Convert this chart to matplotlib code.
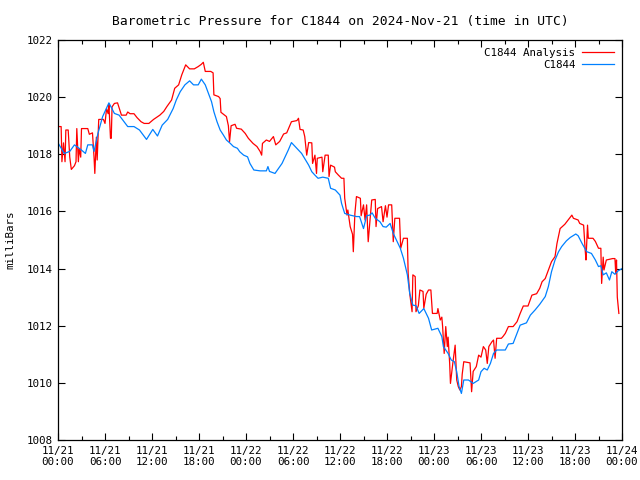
import matplotlib
matplotlib.use("Agg")
import matplotlib.pyplot as plt
import numpy as np

# Data (hours since 11/21 00:00 UTC, millibars) -------------------------------

station_hours = [0.0, 0.8, 1.5, 2.1, 2.9, 3.5, 3.8, 4.4, 4.6, 5.1, 5.7, 6.5, 7.2, 7.8,
                 8.9, 9.7, 10.4, 11.3, 12.1, 12.7, 13.3, 14.0, 14.7, 15.1, 15.6, 16.2,
                 16.8, 17.3, 17.9, 18.3, 18.8, 19.2, 19.6, 19.9, 20.3, 20.7, 21.1, 21.5,
                 22.0, 22.4, 22.9, 23.2, 23.7, 24.2, 24.5, 25.0, 25.8, 26.6, 26.8, 27.0,
                 27.7, 28.6, 29.4, 29.8, 30.7, 31.1, 32.0, 32.4, 32.8, 33.2, 33.8, 34.5,
                 34.8, 35.4, 36.0, 36.2, 36.6, 37.3, 38.1, 38.5, 39.0, 39.4, 39.8, 40.1,
                 40.5, 41.1, 41.5, 41.9, 42.4, 42.8, 43.2, 43.7, 44.1, 44.6, 44.9, 45.3,
                 45.7, 46.1, 46.7, 47.3, 47.7, 48.5, 49.0, 49.2, 49.8, 50.2, 50.6, 50.9,
                 51.2, 51.5, 51.8, 52.4, 53.0, 53.7, 54.0, 54.4, 54.8, 55.2, 55.6, 56.0,
                 57.1, 57.5, 58.1, 58.6, 59.0, 59.8, 60.3, 60.9, 61.5, 62.2, 62.6, 63.0,
                 63.45, 63.9, 64.3, 64.9, 65.4, 66.1, 66.4, 66.9, 67.5, 68.1, 68.6, 69.0,
                 69.3, 69.6, 70.0, 70.4, 70.7, 71.1, 71.5, 72.0]
station_mb = [1018.4, 1018.03, 1018.1, 1018.33, 1018.17, 1018.03, 1018.33, 1018.33,
              1018.1, 1018.73, 1019.32, 1019.8, 1019.43, 1019.37, 1018.97, 1018.97,
              1018.85, 1018.52, 1018.87, 1018.64, 1019.02, 1019.22, 1019.6, 1019.9,
              1020.19, 1020.43, 1020.57, 1020.43, 1020.43, 1020.63, 1020.43, 1020.13,
              1019.84, 1019.49, 1019.14, 1018.85, 1018.68, 1018.5, 1018.38, 1018.27,
              1018.21, 1018.09, 1017.97, 1017.91, 1017.68, 1017.45, 1017.42, 1017.42,
              1017.57, 1017.4, 1017.33, 1017.68, 1018.15, 1018.41, 1018.15, 1018.03,
              1017.62, 1017.39, 1017.27, 1017.16, 1017.2, 1017.16, 1016.81, 1016.75,
              1016.57, 1016.28, 1015.93, 1015.87, 1015.82, 1015.82, 1015.4, 1015.85,
              1015.87, 1015.95, 1015.76, 1015.64, 1015.47, 1015.45, 1015.58, 1015.23,
              1015.0, 1014.71, 1014.36, 1013.78, 1013.13, 1012.72, 1012.7, 1012.43,
              1012.6, 1012.26, 1011.85, 1011.91, 1011.62, 1011.27, 1011.03, 1010.8,
              1010.74, 1010.39, 1009.87, 1009.63, 1010.1, 1010.1, 1009.98, 1010.1,
              1010.39, 1010.51, 1010.45, 1010.68, 1011.03, 1011.15, 1011.15, 1011.36,
              1011.38, 1011.73, 1012.02, 1012.1, 1012.37, 1012.55, 1012.75, 1013.02,
              1013.37, 1013.89, 1014.3, 1014.59, 1014.77, 1014.97, 1015.09, 1015.21,
              1015.15, 1014.88, 1014.59, 1014.53, 1014.3, 1014.07, 1014.1, 1013.78,
              1013.85, 1013.6, 1013.89, 1013.8, 1013.92, 1014.0]

analysis_hours = [0.0, 0.4, 0.5, 0.7, 0.9, 1.0, 1.3, 1.5, 1.7, 2.1, 2.3, 2.4, 2.6, 2.7,
                  2.9, 3.0, 3.8, 4.0, 4.4, 4.6, 4.7, 4.9, 5.0, 5.2, 5.8, 6.0, 6.2, 6.4,
                  6.5, 6.7, 6.8, 6.9, 7.2, 7.6, 8.1, 8.7, 8.9, 9.2, 9.7, 10.1, 10.6, 11.0,
                  11.6, 12.2, 13.0, 13.5, 13.9, 14.5, 14.9, 15.4, 15.8, 16.3, 16.8, 17.4,
                  17.9, 18.3, 18.55, 18.8, 19.5, 19.8, 19.9, 20.5, 20.7, 20.8, 21.5, 21.75,
                  21.9, 22.1, 22.6, 22.8, 23.4, 23.9, 24.3, 24.9, 25.4, 25.8, 26.0, 26.1,
                  26.6, 27.0, 27.5, 27.8, 28.3, 28.8, 29.2, 29.8, 30.5, 30.7, 30.9, 31.3,
                  31.5, 31.75, 32.0, 32.4, 32.5, 32.8, 33.0, 33.1, 33.7, 33.8, 34.1, 34.5,
                  34.6, 34.8, 35.3, 35.4, 35.8, 36.2, 36.5, 36.6, 36.9, 37.0, 37.3, 37.6,
                  37.7, 37.9, 38.1, 38.6, 38.7, 39.0, 39.2, 39.4, 39.6, 40.05, 40.5, 40.6,
                  40.8, 41.3, 41.5, 41.8, 42.0, 42.2, 42.6, 42.8, 43.0, 43.6, 43.75, 44.1,
                  44.6, 44.7, 44.9, 45.2, 45.3, 45.6, 45.7, 46.0, 46.2, 46.6, 46.7, 47.0,
                  47.3, 47.6, 47.8, 48.4, 48.5, 48.8, 49.0, 49.1, 49.3, 49.5, 49.7, 49.8,
                  50.0, 50.1, 50.4, 50.7, 50.9, 51.1, 51.3, 51.5, 51.6, 51.8, 52.6, 52.8,
                  53.0, 53.4, 53.7, 54.0, 54.3, 54.6, 54.8, 55.0, 55.4, 55.6, 55.8, 56.0,
                  56.6, 56.8, 57.1, 57.5, 58.1, 58.6, 59.0, 59.4, 60.0, 60.5, 61.1, 61.5,
                  61.8, 62.2, 62.6, 63.0, 63.45, 63.7, 64.1, 64.7, 65.3, 65.6, 65.8, 66.4,
                  66.6, 67.1, 67.3, 67.4, 67.6, 67.7, 68.3, 68.6, 69.0, 69.3, 69.4, 69.6,
                  69.7, 70.0, 70.8, 71.1, 71.2, 71.3, 71.4, 71.6]
analysis_mb = [1018.97, 1018.97, 1017.74, 1018.4, 1017.74, 1018.85, 1018.85, 1017.9,
               1017.47, 1017.6, 1017.74, 1018.9, 1017.74, 1018.2, 1017.9, 1018.9, 1018.9,
               1018.7, 1018.75, 1017.9, 1017.33, 1018.6, 1017.8, 1019.22, 1019.22,
               1019.08, 1019.6, 1019.42, 1019.75, 1018.56, 1018.56, 1019.66, 1019.78,
               1019.8, 1019.37, 1019.37, 1019.48, 1019.42, 1019.42, 1019.28, 1019.14,
               1019.08, 1019.08, 1019.22, 1019.37, 1019.5, 1019.67, 1019.9, 1020.31,
               1020.43, 1020.78, 1021.13, 1020.99, 1020.99, 1021.07, 1021.15, 1021.22,
               1020.9, 1020.9, 1020.85, 1020.08, 1020.02, 1019.95, 1019.47, 1019.32,
               1019.0, 1018.44, 1019.0, 1019.05, 1018.91, 1018.88, 1018.73, 1018.56,
               1018.38, 1018.27, 1018.1, 1017.97, 1018.38, 1018.5, 1018.45, 1018.62,
               1018.33, 1018.45, 1018.71, 1018.75, 1019.14, 1019.18, 1019.26, 1018.87,
               1018.85, 1018.62, 1017.97, 1018.41, 1018.4, 1017.68, 1017.97, 1017.33,
               1017.86, 1017.9, 1017.39, 1017.97, 1017.97, 1017.22, 1017.62, 1017.55,
               1017.39, 1017.27, 1017.16, 1017.16, 1016.46, 1015.87, 1016.05, 1015.47,
               1015.2, 1014.59, 1015.93, 1016.52, 1016.46, 1015.85, 1016.23, 1015.7,
               1016.23, 1014.94, 1016.4, 1016.42, 1015.47, 1016.1, 1016.17, 1015.64,
               1016.2, 1015.8, 1016.23, 1016.23, 1014.94, 1015.76, 1015.76, 1014.71,
               1015.06, 1015.06, 1013.83, 1013.13, 1012.49, 1013.78, 1013.72, 1012.49,
               1012.7, 1013.25, 1013.2, 1012.61, 1013.1, 1013.25, 1013.25, 1012.43,
               1012.43, 1012.6, 1012.2, 1012.3, 1011.97, 1011.03, 1011.97, 1011.27,
               1011.6, 1010.68, 1009.98, 1010.68, 1011.32, 1010.1, 1009.87, 1009.75,
               1009.87, 1010.3, 1010.74, 1010.7, 1009.69, 1010.4, 1010.57, 1010.97,
               1010.9, 1011.27, 1011.15, 1010.68, 1011.27, 1011.44, 1011.5, 1010.86,
               1011.56, 1011.56, 1011.62, 1011.73, 1011.97, 1011.97, 1012.14, 1012.43,
               1012.69, 1012.69, 1013.07, 1013.12, 1013.31, 1013.54, 1013.65, 1013.95,
               1014.24, 1014.42, 1014.88, 1015.4, 1015.55, 1015.76, 1015.87, 1015.76,
               1015.7, 1015.58, 1015.52, 1014.65, 1014.3, 1015.52, 1015.06, 1015.06,
               1014.95, 1014.71, 1014.71, 1013.48, 1014.4, 1013.95, 1014.3, 1014.35,
               1014.35, 1013.83, 1014.3, 1013.0, 1012.43]

tick_hours = list(range(0, 73, 6))
tick_labels = ["11/21\n00:00", "11/21\n06:00", "11/21\n12:00", "11/21\n18:00",
               "11/22\n00:00", "11/22\n06:00", "11/22\n12:00", "11/22\n18:00",
               "11/23\n00:00", "11/23\n06:00", "11/23\n12:00", "11/23\n18:00",
               "11/24\n00:00"]


# Figure ------------------------------------------

plt.rcParams['font.family'] = ['DejaVu Sans Mono']
plt.rcParams['font.size'] = 7.8

fig = plt.figure(figsize=(6.4, 4.8), dpi=100)
ax = fig.add_axes([58 / 640, 40 / 480, 564 / 640, 400 / 480])

ax.plot(analysis_hours, analysis_mb, color='#ff0000', lw=0.9, label='C1844 Analysis')
ax.plot(station_hours, station_mb, color='#0080ff', lw=0.9, label='C1844')

ax.set_xlim(0, 72)
ax.set_ylim(1008, 1022)
ax.set_xticks(tick_hours)
ax.set_xticklabels(tick_labels)
ax.set_xticks(np.arange(3, 72, 6), minor=True)
ax.set_yticks(np.arange(1008, 1023, 2))

ax.tick_params(which='both', direction='in', top=True, right=True, width=0.8)
ax.tick_params(which='major', length=5, pad=4)
ax.tick_params(which='minor', length=3)
for s in ax.spines.values():
    s.set_linewidth(0.9)

ax.set_ylabel("milliBars")
ax.yaxis.set_label_coords(-0.075, 0.5)
ax.set_title("Barometric Pressure for C1844 on 2024-Nov-21 (time in UTC)", pad=11)

ax.legend(loc='upper right', frameon=False, markerfirst=False, handlelength=3,
          borderaxespad=0.3, labelspacing=0.2, handletextpad=0.6)

fig.savefig("out.png", dpi=100)
